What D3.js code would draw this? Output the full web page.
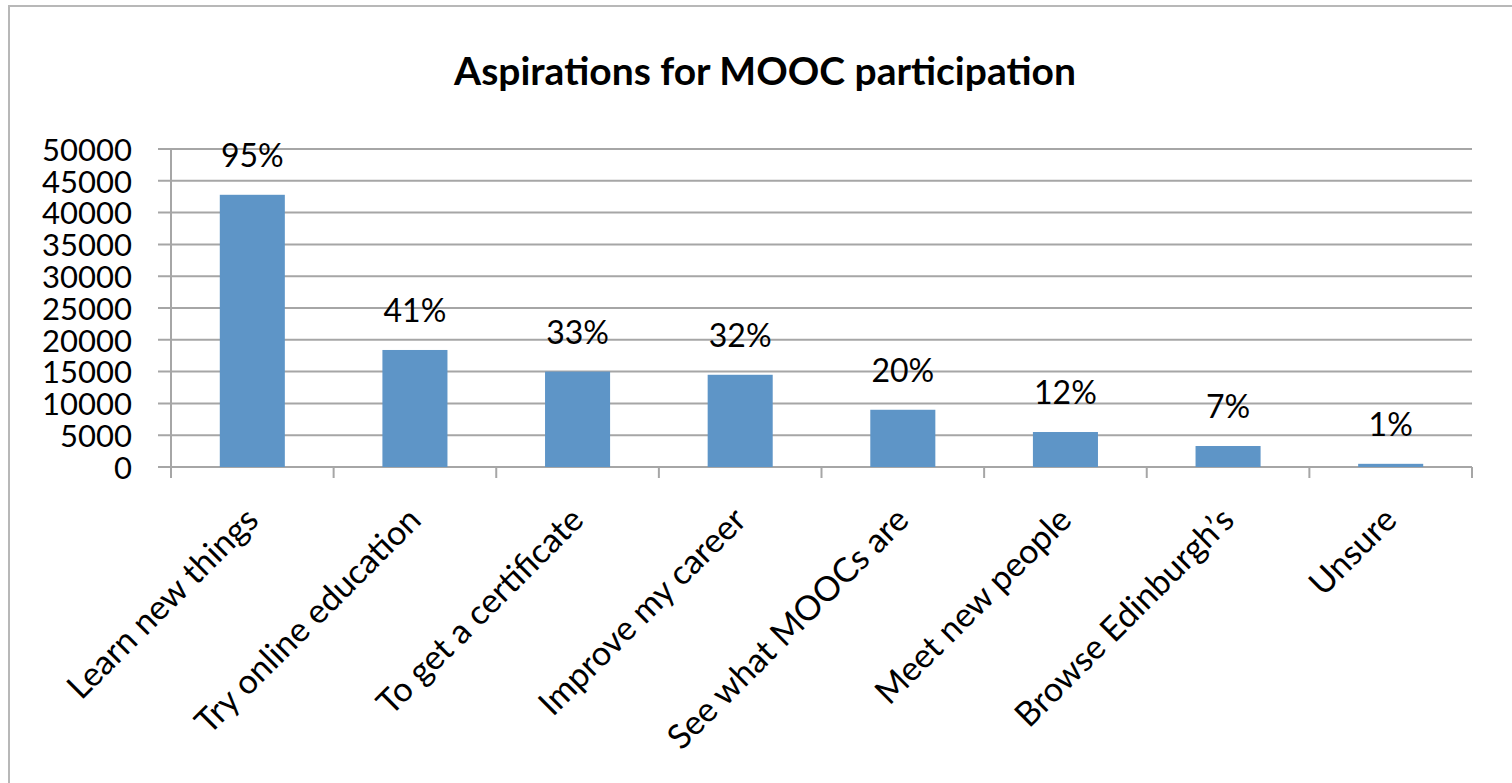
<!DOCTYPE html>
<html><head><meta charset="utf-8">
<script src="https://cdn.jsdelivr.net/npm/d3@7"></script>
<style>html,body{margin:0;padding:0;background:#fff;overflow:hidden}</style>
</head><body>
<svg id="c" width="1512" height="783"></svg>
<script>
const categories = ["Learn new things","Try online education","To get a certificate","Improve my career","See what MOOCs are","Meet new people","Browse Edinburgh’s","Unsure"];
const values = [42800, 18400, 15000, 14500, 9000, 5500, 3300, 500];
const pctLabels = ["95%","41%","33%","32%","20%","12%","7%","1%"];
const yTicks = [0,5000,10000,15000,20000,25000,30000,35000,40000,45000,50000];
const title = "Aspirations for MOOC participation";

const svg = d3.select("#c");
const font = "Lato, 'Open Sans', sans-serif";
const L = 171, R = 1472, T = 149, B = 467;

// frame
svg.append("rect").attr("x",9).attr("y",6).attr("width",1520).attr("height",800)
  .attr("fill","none").attr("stroke","#b8b8b8").attr("stroke-width",2);

const x = d3.scaleBand().domain(categories).range([L,R]).paddingInner(0.6).paddingOuter(0.3);
const xb = d3.scaleBand().domain(categories).range([L,R]);
const y = d3.scaleLinear().domain([0,50000]).range([B,T]);

// gridlines
svg.append("g").selectAll("line").data(yTicks).join("line")
  .attr("x1",L-13).attr("x2",R).attr("y1",d=>y(d)).attr("y2",d=>y(d))
  .attr("stroke","#a6a6a6").attr("stroke-width",2);

// y axis line
svg.append("line").attr("x1",L).attr("x2",L).attr("y1",T).attr("y2",B+11)
  .attr("stroke","#a6a6a6").attr("stroke-width",2);

// x ticks at band boundaries
const bounds = categories.map(c=>xb(c)).concat([R]);
svg.append("g").selectAll("line").data(bounds).join("line")
  .attr("x1",d=>d).attr("x2",d=>d).attr("y1",B).attr("y2",B+11)
  .attr("stroke","#a6a6a6").attr("stroke-width",2);

// bars
svg.append("g").selectAll("rect").data(values).join("rect")
  .attr("x",(d,i)=>x(categories[i])).attr("width",x.bandwidth())
  .attr("y",d=>y(d)).attr("height",d=>B-y(d))
  .attr("fill","#5e95c7");

// value labels
svg.append("g").selectAll("text").data(values).join("text")
  .attr("x",(d,i)=>xb(categories[i])+xb.bandwidth()/2)
  .attr("y",d=>y(d)-28)
  .attr("text-anchor","middle").attr("font-family",font).attr("font-size",32)
  .attr("fill","#000").text((d,i)=>pctLabels[i]);

// y tick labels
svg.append("g").selectAll("text").data(yTicks).join("text")
  .attr("x",132).attr("y",d=>y(d)).attr("dy","0.38em")
  .attr("text-anchor","end").attr("font-family",font).attr("font-size",31)
  .attr("fill","#000").text(d=>d);

// x labels
svg.append("g").selectAll("text").data(categories).join("text")
  .attr("transform",d=>`translate(${xb(d)+xb.bandwidth()/2+8},522) rotate(-45)`)
  .attr("text-anchor","end").attr("font-family",font).attr("font-size",34)
  .attr("fill","#000").text(d=>d);

// title
svg.append("text").attr("x",765).attr("y",85).attr("text-anchor","middle")
  .attr("font-family",font).attr("font-weight","bold").attr("font-size",39)
  .attr("fill","#000").text(title);
</script>
</body></html>
